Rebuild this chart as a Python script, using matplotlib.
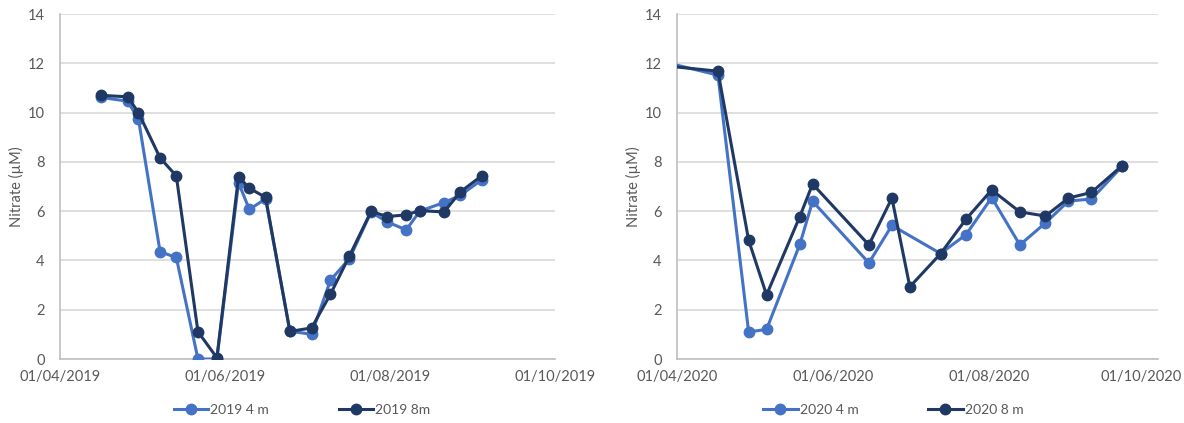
import numpy as np
import pandas as pd
import matplotlib
matplotlib.use("Agg")
import matplotlib.pyplot as plt
import matplotlib.dates as mdates
import matplotlib.transforms as mtransforms

# ---- data ----
dates_2019 = ["2019-04-16", "2019-04-26", "2019-04-30", "2019-05-08", "2019-05-14",
              "2019-05-22", "2019-05-29", "2019-06-06", "2019-06-10", "2019-06-16",
              "2019-06-25", "2019-07-03", "2019-07-10", "2019-07-17", "2019-07-25",
              "2019-07-31", "2019-08-07", "2019-08-12", "2019-08-21", "2019-08-27",
              "2019-09-04"]
n2019_4m = [10.62, 10.46, 9.74, 4.35, 4.12, 0.0, 0.0, 7.15, 6.07, 6.5, 1.12, 1.01,
            3.2, 4.07, 5.96, 5.56, 5.24, 6.0, 6.35, 6.64, 7.28]
n2019_8m = [10.7, 10.64, 10.0, 8.16, 7.43, 1.11, 0.05, 7.4, 6.93, 6.56, 1.12, 1.26,
            2.63, 4.18, 5.99, 5.78, 5.85, 6.02, 5.97, 6.78, 7.44]

dates_2020 = ["2020-03-29", "2020-04-17", "2020-04-29", "2020-05-06", "2020-05-19",
              "2020-05-24", "2020-06-15", "2020-06-24", "2020-07-01", "2020-07-13",
              "2020-07-23", "2020-08-02", "2020-08-13", "2020-08-23", "2020-09-01",
              "2020-09-10", "2020-09-22"]
n2020_4m = [12.0, 11.52, 1.1, 1.2, 4.65, 6.4, 3.9, 5.42, np.nan, 4.28, 5.05, 6.55,
            4.63, 5.52, 6.41, 6.49, 7.82]
n2020_8m = [11.88, 11.68, 4.82, 2.6, 5.78, 7.1, 4.63, 6.53, 2.93, 4.27, 5.68, 6.86,
            5.97, 5.8, 6.53, 6.76, 7.85]

ticks_2019 = ["2019-04-01", "2019-06-01", "2019-08-01", "2019-10-01"]
ticks_2020 = ["2020-04-01", "2020-06-01", "2020-08-01", "2020-10-01"]
xlim_2019 = ("2019-04-01", "2019-10-01")
xlim_2020 = ("2020-04-01", "2020-10-06")
yticks = [0, 2, 4, 6, 8, 10, 12, 14]

C4 = "#4472C4"
C8 = "#203864"
GRID = "#d9d9d9"
TXT = "#595959"

plt.rcParams['font.family'] = ['Lato', 'DejaVu Sans']

W, H = 1184, 423
fig = plt.figure(figsize=(W / 100, H / 100), dpi=100)

def make_axes(x0, x1):
    return fig.add_axes([x0 / W, 1 - 359 / H, (x1 - x0) / W, (359 - 14) / H])

ax1 = make_axes(60, 555)
ax2 = make_axes(677, 1158)

FS = 10.5

def draw(ax, dates, s4, s8, lab4, lab8, ticks, xlim, legend_x):
    d = pd.to_datetime(dates)
    s4 = np.array(s4, dtype=float)
    s8 = np.array(s8, dtype=float)
    m4 = ~np.isnan(s4)
    l4, = ax.plot(d[m4], s4[m4], color=C4, lw=2.2, marker='o', ms=7.5,
                  label=lab4, zorder=3)
    l8, = ax.plot(d, s8, color=C8, lw=2.2, marker='o', ms=7.5, label=lab8, zorder=4)
    ax.set_xlim(pd.to_datetime(xlim[0]), pd.to_datetime(xlim[1]))
    ax.set_ylim(0, 14)
    ax.set_yticks(yticks)
    ax.set_xticks(pd.to_datetime(ticks))
    ax.xaxis.set_major_formatter(mdates.DateFormatter("%d/%m/%Y"))
    ax.grid(axis='y', color=GRID, lw=1.2)
    ax.set_axisbelow(True)
    for s in ['top', 'right']:
        ax.spines[s].set_visible(False)
    for s in ['left', 'bottom']:
        ax.spines[s].set_color("#bfbfbf")
        ax.spines[s].set_linewidth(1.2)
    ax.tick_params(axis='both', length=0, colors=TXT, labelsize=FS)
    ax.tick_params(axis='y', pad=11)
    ax.tick_params(axis='x', pad=8)
    ax.set_ylabel("Nitrate (µM)", color=TXT, fontsize=FS, labelpad=3)
    ax.legend(handles=[l4, l8], loc='center', ncol=2, frameon=False,
              bbox_to_anchor=(legend_x / W, 1 - 410 / H),
              bbox_transform=fig.transFigure, fontsize=10, labelcolor=TXT,
              handlelength=2.5, handletextpad=0.15, columnspacing=5.0)

draw(ax1, dates_2019, n2019_4m, n2019_8m, "2019 4 m", "2019 8m", ticks_2019, xlim_2019, 302)
draw(ax2, dates_2020, n2020_4m, n2020_8m, "2020 4 m", "2020 8 m", ticks_2020, xlim_2020, 893)

# the last date label on the right chart is pulled inside the picture edge
last = ax2.get_xticklabels()[-1]
last.set_transform(last.get_transform() +
                   mtransforms.ScaledTranslation(-4 / 100, 0, fig.dpi_scale_trans))

fig.savefig("out.png", dpi=100)
